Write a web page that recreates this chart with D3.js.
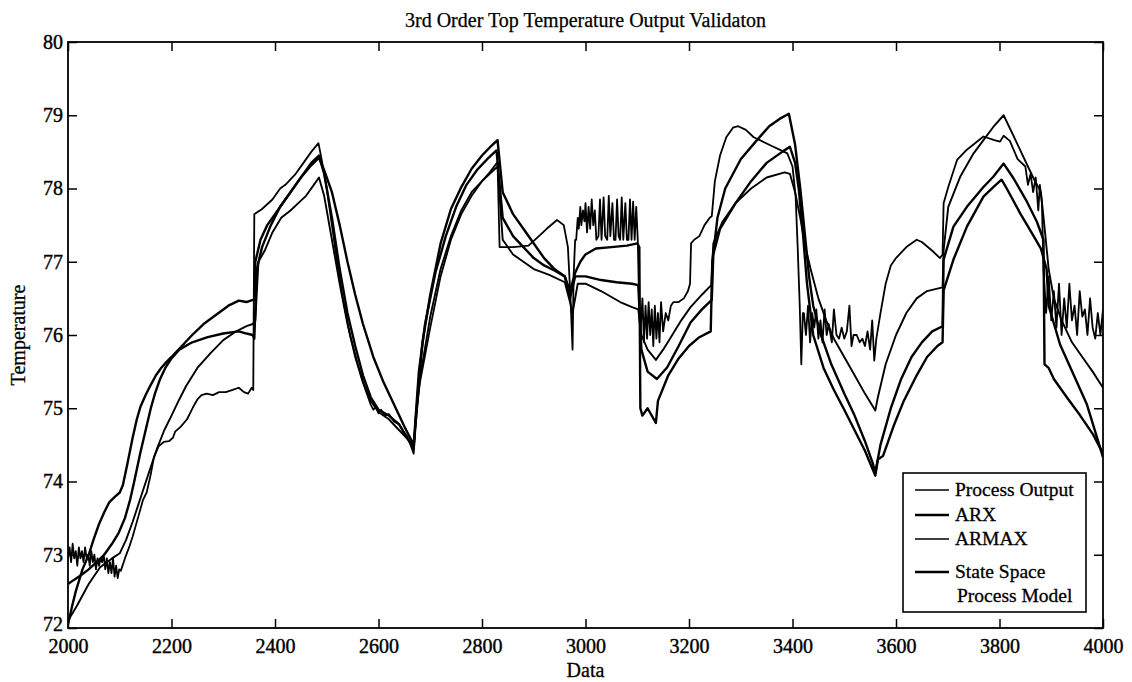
<!DOCTYPE html>
<html>
<head>
<meta charset="utf-8">
<script src="https://cdn.jsdelivr.net/npm/d3@7"></script>
<style>
  html, body { margin: 0; padding: 0; background: #fff; }
  svg { display: block; }
  text { font-family: "Liberation Serif", "Times New Roman", serif; fill: #000; }
</style>
</head>
<body>
<svg id="chart" width="1132" height="682"></svg>
<script>
// ---- data -------------------------------------------------------------
const xTicks = [2000, 2200, 2400, 2600, 2800, 3000, 3200, 3400, 3600, 3800, 4000];
const yTicks = [72, 73, 74, 75, 76, 77, 78, 79, 80];
const seriesNames = ["Process Output", "ARX", "ARMAX", "State Space", "Process Model"];

// measured plant output (noisy)
const processOutput = [
  [2000,72.95],[2003,73.1],[2006,72.9],[2009,73.15],[2012,72.95],[2015,73.05],[2018,72.85],[2021,73.1],
  [2024,72.95],[2027,73.05],[2030,72.9],[2033,73.1],[2036,72.95],[2039,73.0],[2042,72.85],[2045,73.05],
  [2048,72.9],[2051,73.0],[2054,72.8],[2057,72.95],[2060,72.85],[2063,72.95],[2066,72.9],[2069,73.0],
  [2072,72.8],[2075,72.95],[2078,72.75],[2081,72.9],[2084,72.75],[2087,72.95],[2090,72.7],[2093,72.85],
  [2096,72.68],[2099,72.8],[2102,72.78],
  [2110,72.95],[2118,73.1],[2125,73.25],[2135,73.5],[2145,73.75],[2152,73.85],[2160,74.1],[2166,74.33],
  [2175,74.48],[2185,74.54],[2195,74.55],[2203,74.6],[2207,74.68],[2218,74.75],[2230,74.85],[2242,75.02],
  [2250,75.12],[2258,75.18],[2268,75.2],[2280,75.18],[2292,75.22],[2305,75.22],[2318,75.25],[2330,75.28],
  [2340,75.22],[2348,75.2],[2355,75.28],[2358,75.25],
  [2360,77.65],[2375,77.72],[2395,77.85],[2410,78.0],[2420,78.05],[2440,78.2],[2455,78.35],[2470,78.5],[2484,78.62],
  [2490,78.4],[2500,78.0],[2510,77.5],[2520,77.0],[2530,76.55],[2545,76.0],[2560,75.6],[2575,75.25],
  [2585,75.05],[2590,74.98],[2595,75.02],[2600,74.93],[2605,74.98],[2612,74.9],[2620,74.92],[2630,74.82],
  [2640,74.78],[2648,74.68],[2655,74.62],[2662,74.5],[2668,74.38],
  [2672,74.9],[2680,75.35],[2700,76.1],[2720,76.8],[2740,77.3],[2760,77.65],[2780,77.9],[2800,78.1],[2815,78.22],[2830,78.36],
  [2834,77.2],[2860,77.2],[2890,77.22],[2910,77.35],[2925,77.45],[2945,77.57],[2958,77.5],[2966,77.2],
  [2971,76.5],[2975,75.8],[2977,76.8],[2980,77.3],
  [2982,77.3],[2985,77.6],[2987,77.45],[2990,77.75],[2992,77.5],[2995,77.7],[2998,77.55],[3000,77.8],
  [3003,77.4],[3006,77.75],[3009,77.45],[3012,77.85],[3015,77.5],[3018,77.7],[3021,77.3],[3025,77.35],
  [3028,77.85],[3031,77.3],[3035,77.88],[3038,77.35],[3042,77.3],[3045,77.9],[3048,77.35],[3052,77.8],
  [3055,77.3],[3058,77.3],[3061,77.85],[3064,77.35],[3067,77.3],[3070,77.88],[3073,77.3],[3077,77.8],
  [3080,77.3],[3083,77.3],[3086,77.85],[3089,77.3],[3092,77.82],[3095,77.3],[3098,77.75],[3101,77.3],
  [3104,76.3],[3106,76.0],[3110,76.5],[3113,75.9],[3116,76.4],[3119,75.95],[3122,76.45],[3125,76.0],
  [3128,76.35],[3131,75.85],[3134,76.4],[3137,75.95],[3140,76.3],[3143,75.9],[3146,76.45],[3150,76.05],
  [3155,76.3],[3160,76.2],[3165,76.4],[3170,76.45],[3180,76.45],[3190,76.5],[3198,76.6],[3202,76.7],
  [3204,77.25],[3210,77.3],[3220,77.35],[3230,77.5],[3240,77.6],[3244,77.62],[3250,78.1],[3260,78.45],
  [3272,78.7],[3285,78.83],[3295,78.85],[3310,78.8],[3325,78.7],[3340,78.65],[3360,78.58],[3378,78.52],
  [3390,78.48],[3400,78.3],[3406,77.9],[3410,77.2],[3414,76.4],[3417,75.6],
  [3420,76.3],[3422,76.3],[3426,76.0],[3430,76.4],[3434,75.9],[3438,76.3],[3442,76.1],[3446,76.35],
  [3450,75.95],[3454,76.2],[3458,75.9],[3462,76.35],[3466,76.0],[3470,76.15],[3476,75.9],[3480,76.35],
  [3485,76.0],[3490,75.95],[3495,76.1],[3500,75.95],[3505,76.05],[3510,76.4],[3514,75.85],[3518,76.0],
  [3524,76.0],[3530,75.9],[3535,75.95],[3540,75.85],[3545,76.05],[3550,75.8],[3554,76.2],[3558,75.65],
  [3562,75.95],[3570,76.3],[3580,76.7],[3590,76.95],[3600,77.05],[3620,77.2],[3640,77.3],[3650,77.27],
  [3670,77.15],[3685,77.05],[3690,77.1],
  [3692,77.8],[3701,78.02],[3718,78.39],[3737,78.53],[3769,78.71],[3790,78.66],[3801,78.64],[3808,78.72],
  [3820,78.65],[3835,78.4],[3850,78.3],[3855,78.05],[3860,78.2],[3865,77.95],[3870,78.15],[3875,77.7],
  [3878,78.05],[3882,77.8],[3885,76.9],
  [3890,76.3],[3895,76.8],[3900,76.2],[3905,76.6],[3910,76.1],[3915,76.7],[3920,76.0],[3925,76.5],
  [3930,76.1],[3935,76.7],[3940,76.2],[3945,76.4],[3950,76.0],[3955,76.6],[3960,76.25],[3965,76.35],
  [3970,76.0],[3975,76.5],[3980,76.1],[3985,75.95],[3990,76.3],[3995,76.0],[4000,76.35]
];

// ARX model response
const arx = [
  [2000,72.05],[2008,72.3],[2015,72.5],[2028,72.8],[2040,73.0],[2050,73.22],[2060,73.42],[2070,73.58],
  [2080,73.72],[2092,73.8],[2100,73.85],[2106,73.95],[2115,74.25],[2125,74.6],[2133,74.85],[2140,75.02],
  [2150,75.18],[2160,75.32],[2170,75.45],[2180,75.55],[2190,75.63],[2200,75.7],[2220,75.85],[2240,76.0],
  [2262,76.15],[2285,76.27],[2310,76.4],[2330,76.47],[2345,76.45],[2357,76.48],
  [2360,76.48],[2362,77.0],[2372,77.3],[2385,77.5],[2400,77.65],[2420,77.85],[2440,78.05],[2455,78.2],
  [2470,78.35],[2485,78.45],
  [2495,78.2],[2510,77.6],[2525,76.9],[2540,76.3],[2555,75.85],[2570,75.45],[2585,75.15],[2600,74.98],
  [2620,74.9],[2640,74.78],[2655,74.6],[2668,74.45],
  [2676,75.2],[2685,75.9],[2700,76.55],[2720,77.25],[2740,77.72],[2760,78.02],[2780,78.27],[2800,78.45],
  [2815,78.56],[2830,78.66],
  [2840,77.95],[2860,77.65],[2880,77.45],[2900,77.25],[2920,77.05],[2940,76.9],[2960,76.8],[2970,76.6],
  [2980,76.85],[2990,77.0],[3000,77.1],[3020,77.18],[3050,77.2],[3080,77.22],[3100,77.25],
  [3104,77.2],[3106,75.0],[3110,74.9],[3120,75.0],[3128,74.9],[3136,74.8],[3140,75.1],[3160,75.45],
  [3180,75.68],[3200,75.85],[3220,75.97],[3242,76.05],[3245,77.0],[3255,77.6],[3270,78.0],[3300,78.4],
  [3330,78.65],[3355,78.85],[3375,78.95],[3393,79.02],
  [3405,78.6],[3415,78.0],[3425,77.3],[3432,76.8],[3440,76.4],[3455,76.0],[3475,75.6],[3500,75.2],
  [3520,74.9],[3540,74.55],[3555,74.25],[3560,74.12],
  [3570,74.5],[3590,75.0],[3610,75.4],[3630,75.7],[3650,75.9],[3670,76.05],[3690,76.12],
  [3692,77.03],[3711,77.48],[3737,77.75],[3769,78.02],[3788,78.16],[3808,78.34],[3827,78.14],[3853,77.82],
  [3872,77.55],[3885,77.3],[3887,75.6],[3895,75.55],[3905,75.4],[3930,75.15],[3956,74.9],[3981,74.64],[4000,74.38]
];

// ARMAX model response
const armax = [
  [2000,72.1],[2017,72.3],[2040,72.6],[2062,72.83],[2085,72.95],[2100,73.02],[2112,73.2],[2125,73.45],
  [2146,73.9],[2160,74.2],[2172,74.45],[2186,74.7],[2200,74.9],[2215,75.12],[2228,75.3],[2250,75.55],
  [2275,75.75],[2300,75.93],[2325,76.05],[2345,76.12],[2357,76.15],
  [2362,76.2],[2368,77.0],[2380,77.15],[2395,77.4],[2412,77.6],[2430,77.7],[2445,77.8],[2460,77.9],
  [2475,78.05],[2485,78.15],
  [2495,77.9],[2510,77.3],[2525,76.7],[2540,76.15],[2555,75.7],[2570,75.35],[2585,75.1],[2600,74.95],
  [2620,74.85],[2640,74.7],[2660,74.55],[2668,74.5],
  [2680,75.4],[2700,76.25],[2720,76.9],[2740,77.35],[2760,77.7],[2780,77.95],[2800,78.1],[2815,78.2],[2830,78.3],
  [2840,77.3],[2860,77.1],[2880,77.0],[2900,76.9],[2930,76.82],[2960,76.72],[2970,76.45],[2975,76.3],
  [2985,76.7],[3000,76.7],[3030,76.6],[3067,76.45],[3090,76.38],[3102,76.35],
  [3108,76.0],[3120,75.8],[3136,75.66],[3150,75.8],[3165,75.97],[3185,76.2],[3203,76.38],[3225,76.55],
  [3243,76.68],[3247,77.25],[3265,77.55],[3290,77.8],[3320,78.0],[3350,78.15],[3385,78.22],[3395,78.2],
  [3405,77.95],[3415,77.6],[3425,77.2],[3435,76.9],[3450,76.5],[3465,76.2],[3480,75.95],[3500,75.7],
  [3520,75.45],[3540,75.2],[3560,74.97],
  [3565,75.15],[3580,75.6],[3600,76.0],[3620,76.3],[3640,76.5],[3660,76.6],[3690,76.65],
  [3692,77.16],[3701,77.75],[3724,78.16],[3750,78.48],[3769,78.66],[3788,78.84],[3808,79.0],
  [3825,78.75],[3845,78.45],[3865,78.15],[3880,77.95],[3888,77.4],[3895,76.9],[3905,76.5],[3920,76.2],
  [3940,75.9],[3960,75.7],[3980,75.5],[4000,75.28]
];

// state space process model response
const stateSpace = [
  [2000,72.6],[2010,72.65],[2025,72.72],[2040,72.8],[2055,72.9],[2070,73.0],[2085,73.15],[2098,73.3],
  [2110,73.5],[2120,73.75],[2128,74.0],[2140,74.4],[2150,74.7],[2160,75.0],[2168,75.2],[2178,75.4],
  [2188,75.55],[2200,75.68],[2215,75.8],[2240,75.9],[2270,75.97],[2300,76.02],[2330,76.05],[2345,76.02],[2357,76.0],
  [2360,75.95],[2365,76.9],[2375,77.2],[2392,77.5],[2410,77.75],[2430,77.95],[2450,78.15],[2468,78.3],[2485,78.42],
  [2495,78.25],[2510,77.95],[2525,77.5],[2540,77.0],[2555,76.55],[2570,76.15],[2590,75.7],[2610,75.35],
  [2630,75.05],[2650,74.75],[2668,74.5],
  [2678,75.5],[2690,76.15],[2710,76.85],[2730,77.35],[2750,77.75],[2770,78.05],[2790,78.25],[2810,78.4],[2828,78.52],
  [2840,77.6],[2860,77.35],[2880,77.2],[2900,77.05],[2920,76.95],[2940,76.88],[2960,76.8],[2970,76.5],
  [2980,76.8],[3000,76.8],[3030,76.75],[3060,76.72],[3090,76.7],[3102,76.68],
  [3108,75.8],[3120,75.5],[3138,75.4],[3158,75.56],[3180,75.85],[3203,76.17],[3225,76.35],[3244,76.48],
  [3247,77.1],[3260,77.45],[3290,77.8],[3320,78.1],[3350,78.35],[3380,78.5],[3395,78.57],
  [3405,78.35],[3412,78.0],[3420,77.4],[3428,76.7],[3440,76.0],[3460,75.55],[3480,75.25],[3500,74.98],
  [3520,74.7],[3540,74.42],[3560,74.08],
  [3565,74.3],[3575,74.35],[3595,74.75],[3615,75.1],[3640,75.45],[3660,75.7],[3680,75.85],[3690,75.9],
  [3692,76.61],[3711,77.03],[3737,77.48],[3769,77.89],[3788,78.02],[3804,78.12],[3814,78.0],[3840,77.66],
  [3866,77.35],[3880,77.18],[3891,76.9],[3895,76.4],[3917,75.87],[3943,75.46],[3969,75.05],[3995,74.45],[4000,74.33]
];

// ---- layout -----------------------------------------------------------
const plot = { left: 68, right: 1103, top: 42, bottom: 628 };
const svg = d3.select("#chart");

const x = d3.scaleLinear().domain([2000, 4000]).range([plot.left, plot.right]);
const y = d3.scaleLinear().domain([72, 80]).range([plot.bottom, plot.top]);

svg.append("rect").attr("width", 1132).attr("height", 682).attr("fill", "#fff");

svg.append("defs").append("clipPath").attr("id", "plotClip")
  .append("rect")
  .attr("x", plot.left).attr("y", plot.top)
  .attr("width", plot.right - plot.left).attr("height", plot.bottom - plot.top);

// ---- series -----------------------------------------------------------
const line = d3.line().x(d => x(d[0])).y(d => y(d[1]));
const series = [
  { data: processOutput, width: 1.8 },
  { data: armax, width: 1.9 },
  { data: stateSpace, width: 2.4 },
  { data: arx, width: 2.4 }
];
const gLines = svg.append("g").attr("clip-path", "url(#plotClip)");
series.forEach(s => {
  gLines.append("path")
    .attr("d", line(s.data))
    .attr("fill", "none")
    .attr("stroke", "#000")
    .attr("stroke-width", s.width)
    .attr("stroke-linejoin", "round");
});

// ---- axes (ticks point inward on all four sides) ---------------------
const tickLen = 9;
const styleAxis = g => {
  g.select(".domain").remove();
  g.selectAll(".tick line").attr("stroke", "#000").attr("stroke-width", 1.5);
  g.selectAll("text")
    .attr("font-family", "Liberation Serif, Times New Roman, serif")
    .attr("font-size", 20)
    .attr("fill", "#000")
    .attr("stroke", "#000").attr("stroke-width", 0.4);
};

svg.append("g").attr("transform", `translate(0,${plot.bottom})`)
  .call(d3.axisBottom(x).tickValues(xTicks).tickSize(-tickLen).tickPadding(11).tickFormat(d3.format("d")))
  .call(styleAxis);
svg.append("g").attr("transform", `translate(0,${plot.top})`)
  .call(d3.axisTop(x).tickValues(xTicks).tickSize(-tickLen).tickFormat(""))
  .call(styleAxis);
svg.append("g").attr("transform", `translate(${plot.left},0)`)
  .call(d3.axisLeft(y).tickValues(yTicks).tickSize(-tickLen).tickPadding(5).tickFormat(d3.format("d")))
  .call(styleAxis)
  .call(g => g.selectAll(".tick").filter(d => d === 72).select("text").attr("y", -4));
svg.append("g").attr("transform", `translate(${plot.right},0)`)
  .call(d3.axisRight(y).tickValues(yTicks).tickSize(-tickLen).tickFormat(""))
  .call(styleAxis);

// frame
svg.append("rect")
  .attr("x", plot.left).attr("y", plot.top)
  .attr("width", plot.right - plot.left).attr("height", plot.bottom - plot.top)
  .attr("fill", "none").attr("stroke", "#000").attr("stroke-width", 1.8);

// ---- titles -----------------------------------------------------------
svg.append("text")
  .attr("x", (plot.left + plot.right) / 2).attr("y", 27)
  .attr("text-anchor", "middle").attr("font-size", 20)
  .attr("stroke", "#000").attr("stroke-width", 0.25)
  .text("3rd Order Top Temperature Output Validaton");

svg.append("text")
  .attr("x", (plot.left + plot.right) / 2).attr("y", 677)
  .attr("text-anchor", "middle").attr("font-size", 20)
  .attr("stroke", "#000").attr("stroke-width", 0.3)
  .text("Data");

svg.append("text")
  .attr("transform", `translate(25,${(plot.top + plot.bottom) / 2}) rotate(-90)`)
  .attr("text-anchor", "middle").attr("font-size", 20)
  .attr("stroke", "#000").attr("stroke-width", 0.3)
  .text("Temperature");

// ---- legend -----------------------------------------------------------
const legend = svg.append("g");
legend.append("rect")
  .attr("x", 903).attr("y", 473).attr("width", 183).attr("height", 139)
  .attr("fill", "#fff").attr("stroke", "#000").attr("stroke-width", 1.6);

const legendRows = [
  { label: seriesNames[0], y: 490, width: 1.6, line: true },
  { label: seriesNames[1], y: 515, width: 2.5, line: true },
  { label: seriesNames[2], y: 539, width: 1.6, line: true },
  { label: seriesNames[3], y: 572, width: 2.5, line: true },
  { label: seriesNames[4], y: 596, width: 0, line: false }
];
legendRows.forEach(r => {
  if (r.line) {
    legend.append("line")
      .attr("x1", 915).attr("x2", 949).attr("y1", r.y).attr("y2", r.y)
      .attr("stroke", "#000").attr("stroke-width", r.width);
  }
  legend.append("text")
    .attr("x", r.line ? 955 : 957).attr("y", r.y).attr("dy", "0.33em")
    .attr("font-size", 19.5)
    .attr("stroke", "#000").attr("stroke-width", 0.3)
    .text(r.label);
});
</script>
</body>
</html>
